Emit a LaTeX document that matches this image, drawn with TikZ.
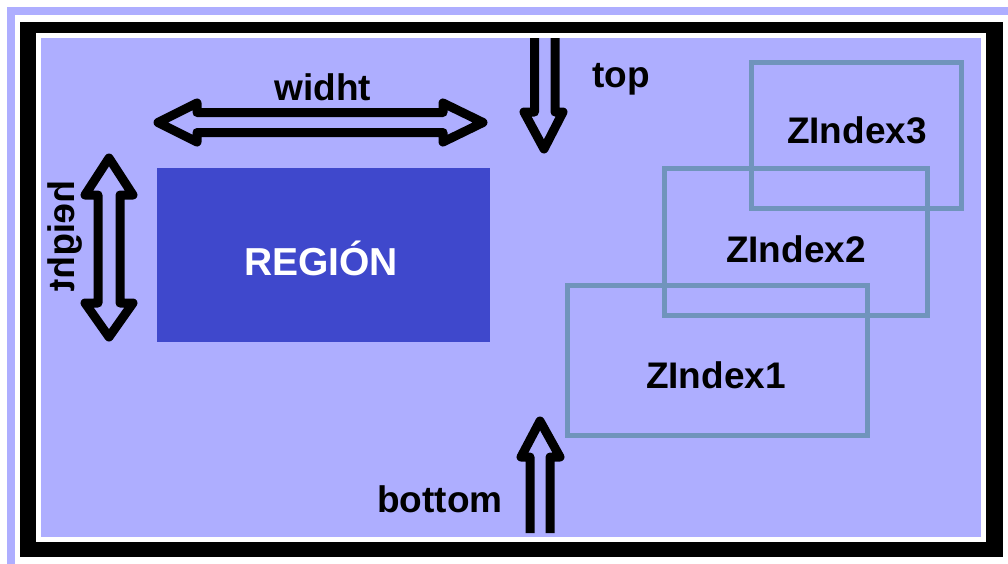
\documentclass[tikz,border=0pt]{standalone}
\usepackage{fontspec}
\setmainfont{Liberation Sans}
\definecolor{lav}{RGB}{174,174,255}
\definecolor{regblue}{RGB}{63,72,204}
\definecolor{zedge}{RGB}{112,148,188}
\begin{document}
\begin{tikzpicture}[x=1pt,y=-1pt,
  lbl/.style={font=\fontsize{37}{40}\selectfont\bfseries, inner sep=0pt, anchor=base},
  hollow/.style={draw=black, line width=9pt, line join=round, line cap=butt},
  zbox/.style={draw=zedge, line width=5pt}]
\useasboundingbox (0,0) rectangle (1008,563);
\fill[white] (0,0) rectangle (1008,563);
% outer lavender strip and frame
\fill[lav] (7,7) rectangle (1010,570);
\fill[white] (15,15) rectangle (1010,570);
\fill[black] (20,22) rectangle (1003,557);
\fill[white] (36,33) rectangle (986,542);
\fill[lav] (41,38) rectangle (981,537);
% region
\node[fill=regblue, minimum width=333pt, minimum height=174pt, inner sep=0pt, anchor=north west] (region) at (157,168) {};
\node[lbl, font=\fontsize{39}{42}\selectfont\bfseries, text=white] (regtxt) at (321,275) {REGIÓN};
% z-index boxes
\draw[zbox] (751,62) rectangle (961,208);
\draw[zbox] (664,168) rectangle (927,315);
\draw[zbox] (567,285) rectangle (867,435);
\node[lbl] (z3) at (857,143) {ZIndex3};
\node[lbl] (z2) at (796,262) {ZIndex2};
\node[lbl] (z1) at (716,388) {ZIndex1};
% width arrow
\draw[hollow] (158,122.5) -- (197,103) -- (197,112.5) -- (443,112.5) -- (443,103) -- (483,122.5)
  -- (443,142) -- (443,132.5) -- (197,132.5) -- (197,142) -- cycle;
\node[lbl] (wlbl) at (323,100) {widht};
% height arrow
\draw[hollow] (109,158) -- (133,195) -- (120,195) -- (120,303) -- (133,303) -- (109,337)
  -- (85,303) -- (98,303) -- (98,195) -- (85,195) -- cycle;
\node[lbl, rotate=-90, yscale=-1] (hlbl) at (74,236) {height};
% top arrow
\draw[hollow] (534.5,38) -- (534.5,112) -- (524,112) -- (544,149) -- (563,112) -- (555,112) -- (555,38);
\node[lbl] (tlbl) at (621,87) {top};
% bottom arrow
\draw[hollow] (530,533) -- (530,457) -- (521,457) -- (540,421) -- (560,457) -- (550,457) -- (550,533);
\node[lbl] (blbl) at (440,512) {bottom};
\end{tikzpicture}
\end{document}
